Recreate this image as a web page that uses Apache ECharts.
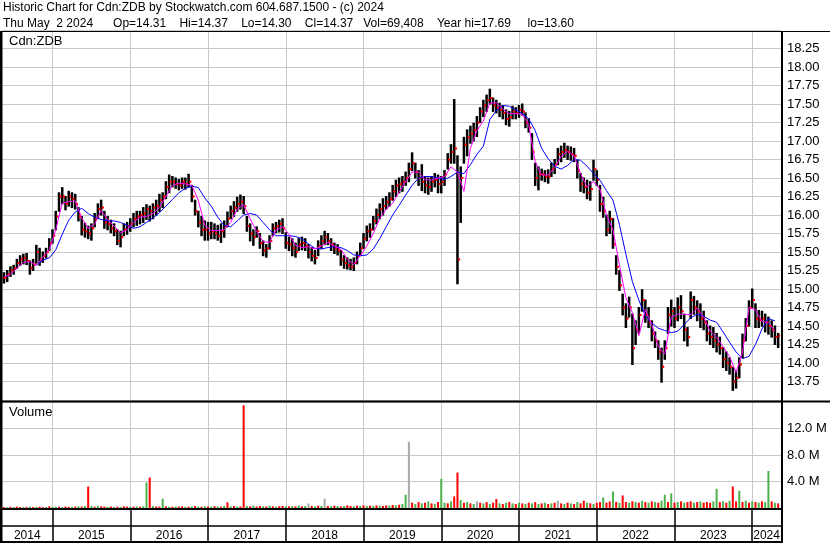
<!DOCTYPE html>
<html><head><meta charset="utf-8">
<script src="https://cdn.jsdelivr.net/npm/echarts@6/dist/echarts.min.js"></script>
<style>html,body{margin:0;padding:0;background:#fff}#c{width:830px;height:543px}</style>
</head><body><div id="c"></div>
<script>
// ---------- DATA ----------
const header1 = 'Historic Chart for Cdn:ZDB by Stockwatch.com 604.687.1500 - (c) 2024';
const header2 = 'Thu May  2 2024      Op=14.31    Hi=14.37    Lo=14.30    Cl=14.37   Vol=69,408    Year hi=17.69     lo=13.60';
const symbolName = 'Cdn:ZDB';
const volumeTitle = 'Volume';

// half-month samples starting mid-May 2014
const firstSample = 2014.375;
const samplesPerYear = 24;
const axisStart = 2014.35;
const axisEnd = 2024.37;
const yearBounds = [2015, 2016, 2017, 2018, 2019, 2020, 2021, 2022, 2023, 2024];

const high = [
15.22,15.25,15.30,15.32,15.40,15.45,15.47,15.48,15.38,15.40,
15.59,15.55,15.50,15.55,15.68,15.80,16.05,16.30,16.37,16.25,
16.32,16.30,16.28,16.10,15.98,15.89,15.85,15.88,16.02,16.15,
16.20,16.05,15.98,15.93,15.88,15.80,15.78,15.88,15.90,15.95,
16.02,16.05,16.05,16.10,16.14,16.12,16.15,16.20,16.28,16.30,
16.45,16.54,16.52,16.50,16.48,16.50,16.50,16.55,16.40,16.20,
16.05,15.98,15.92,15.90,15.90,15.88,15.86,15.88,15.92,16.04,
16.12,16.18,16.24,16.27,16.25,15.98,15.88,15.80,15.84,15.75,
15.65,15.60,15.72,15.88,15.90,15.93,15.95,15.76,15.70,15.68,
15.62,15.68,15.70,15.68,15.60,15.56,15.52,15.65,15.72,15.78,
15.75,15.68,15.62,15.60,15.52,15.45,15.42,15.40,15.42,15.50,
15.62,15.75,15.85,15.88,15.98,16.08,16.15,16.22,16.25,16.30,
16.40,16.47,16.50,16.52,16.58,16.70,16.84,16.70,16.60,16.68,
16.52,16.50,16.52,16.56,16.54,16.52,16.60,16.83,16.95,17.56,
16.80,16.65,17.05,17.15,17.20,17.24,17.33,17.45,17.55,17.62,
17.70,17.58,17.55,17.51,17.48,17.42,17.40,17.47,17.45,17.48,
17.50,17.38,17.30,17.10,16.70,16.65,16.62,16.60,16.61,16.70,
16.75,16.90,16.93,16.97,16.93,16.92,16.90,16.74,16.56,16.50,
16.47,16.45,16.74,16.60,16.40,16.24,16.00,16.05,15.95,15.45,
15.25,14.93,14.80,14.89,14.66,14.57,14.75,14.99,14.85,14.75,
14.57,14.42,14.30,14.20,14.30,14.75,14.85,14.75,14.88,14.91,
14.66,14.48,14.96,14.90,14.84,14.80,14.70,14.57,14.50,14.48,
14.40,14.35,14.21,14.15,14.07,13.94,13.90,14.07,14.39,14.60,
14.84,15.00,14.80,14.71,14.70,14.66,14.62,14.57,14.50,14.40];

const low = [
15.08,15.10,15.17,15.20,15.28,15.32,15.34,15.33,15.20,15.25,
15.35,15.32,15.36,15.42,15.52,15.62,15.80,16.05,16.15,16.07,
16.12,16.10,16.08,15.92,15.73,15.70,15.68,15.66,15.84,15.95,
16.00,15.82,15.80,15.76,15.72,15.60,15.57,15.72,15.74,15.78,
15.84,15.86,15.88,15.90,15.94,15.92,15.95,16.00,16.05,16.10,
16.22,16.30,16.38,16.36,16.34,16.36,16.35,16.38,16.18,16.00,
15.84,15.72,15.66,15.66,15.68,15.68,15.66,15.63,15.70,15.84,
15.95,15.98,16.05,16.08,16.02,15.78,15.65,15.59,15.70,15.55,
15.45,15.43,15.54,15.72,15.76,15.77,15.75,15.55,15.52,15.45,
15.43,15.52,15.53,15.52,15.42,15.38,15.34,15.45,15.55,15.60,
15.60,15.52,15.48,15.46,15.32,15.28,15.27,15.26,15.25,15.34,
15.45,15.55,15.65,15.70,15.80,15.88,15.95,16.00,16.08,16.12,
16.20,16.25,16.30,16.32,16.40,16.45,16.60,16.50,16.40,16.33,
16.30,16.28,16.32,16.38,16.30,16.30,16.40,16.62,16.70,16.70,
15.07,15.90,16.70,16.80,16.97,17.00,17.06,17.25,17.33,17.40,
17.50,17.40,17.38,17.33,17.30,17.22,17.20,17.30,17.30,17.32,
17.35,17.18,17.12,16.75,16.40,16.34,16.47,16.45,16.43,16.52,
16.56,16.68,16.72,16.78,16.75,16.74,16.72,16.50,16.32,16.30,
16.22,16.20,16.47,16.40,16.05,15.97,15.72,15.75,15.55,15.20,
14.98,14.65,14.48,14.62,13.98,14.25,14.40,14.70,14.55,14.48,
14.30,14.21,14.05,13.74,14.05,14.40,14.50,14.48,14.57,14.60,
14.30,14.23,14.60,14.66,14.57,14.48,14.45,14.30,14.25,14.21,
14.15,14.12,13.94,13.90,13.85,13.63,13.66,13.80,14.07,14.30,
14.50,14.75,14.48,14.48,14.50,14.42,14.39,14.35,14.25,14.21];

const close = [
15.15,15.20,15.25,15.28,15.35,15.40,15.42,15.38,15.28,15.33,
15.50,15.40,15.45,15.50,15.62,15.72,15.98,16.25,16.25,16.15,
16.25,16.22,16.15,15.98,15.80,15.78,15.75,15.82,15.95,16.08,
16.10,15.90,15.88,15.82,15.78,15.65,15.70,15.80,15.85,15.88,
15.95,15.98,16.00,16.02,16.08,16.05,16.10,16.12,16.20,16.25,
16.38,16.45,16.45,16.42,16.40,16.45,16.42,16.45,16.25,16.05,
15.90,15.80,15.80,15.75,15.78,15.75,15.72,15.78,15.85,15.95,
16.05,16.10,16.15,16.18,16.12,15.85,15.75,15.70,15.78,15.62,
15.52,15.55,15.65,15.82,15.85,15.88,15.82,15.62,15.60,15.55,
15.50,15.60,15.62,15.58,15.50,15.45,15.42,15.58,15.65,15.70,
15.65,15.60,15.55,15.52,15.40,15.35,15.32,15.30,15.35,15.45,
15.55,15.68,15.78,15.80,15.92,16.00,16.08,16.12,16.18,16.22,
16.32,16.40,16.42,16.45,16.50,16.62,16.70,16.58,16.50,16.45,
16.40,16.38,16.45,16.48,16.42,16.45,16.55,16.75,16.85,16.90,
15.40,16.50,16.95,17.05,17.10,17.15,17.25,17.40,17.48,17.55,
17.58,17.48,17.45,17.42,17.38,17.30,17.32,17.40,17.38,17.42,
17.40,17.25,17.18,16.85,16.50,16.55,16.55,16.52,16.52,16.62,
16.68,16.82,16.85,16.88,16.85,16.82,16.80,16.60,16.42,16.38,
16.30,16.35,16.62,16.48,16.15,16.05,15.80,15.95,15.60,15.30,
15.05,14.75,14.60,14.75,14.20,14.45,14.65,14.85,14.65,14.55,
14.40,14.30,14.15,13.95,14.20,14.65,14.70,14.60,14.75,14.70,
14.45,14.35,14.85,14.75,14.70,14.60,14.55,14.40,14.35,14.30,
14.25,14.20,14.05,14.00,13.95,13.75,13.80,13.98,14.30,14.50,
14.75,14.85,14.60,14.58,14.60,14.55,14.50,14.45,14.35,14.37];

// moving averages, one value per month (same start)
const samplesPerYearMA = 12;
const maFast = [
15.16,15.20,15.28,15.36,15.37,15.32,15.43,15.53,15.80,16.16,
16.18,16.19,15.96,15.82,15.88,16.06,15.94,15.85,15.76,15.80,
15.90,15.97,15.98,16.02,16.10,16.25,16.40,16.43,16.42,16.40,
16.20,15.86,15.79,15.79,15.80,15.90,16.08,16.14,15.95,15.78,
15.64,15.63,15.80,15.84,15.74,15.59,15.56,15.57,15.54,15.58,
15.63,15.58,15.54,15.40,15.33,15.45,15.58,15.75,15.95,16.08,
16.16,16.31,16.45,16.58,16.58,16.48,16.47,16.50,16.52,16.65,
16.58,16.32,16.90,17.14,17.27,17.51,17.52,17.43,17.37,17.37,
17.36,17.22,16.72,16.54,16.54,16.64,16.79,16.86,16.80,16.56,
16.38,16.45,16.35,16.00,15.80,15.33,14.88,14.68,14.37,14.72,
14.52,14.22,14.12,14.62,14.66,14.66,14.65,14.74,14.62,14.43,
14.35,14.22,14.09,13.87,14.15,14.75,14.72,14.56,14.55,14.43];

const maSlow = [
null,null,null,null,null,15.32,15.39,15.42,15.53,15.74,
15.93,16.04,16.09,16.02,15.97,15.94,15.92,15.92,15.90,15.86,
15.82,15.84,15.90,15.96,16.03,16.12,16.21,16.30,16.36,16.39,
16.37,16.23,16.12,15.97,15.86,15.84,15.92,16.00,16.02,16.00,
15.90,15.80,15.72,15.72,15.72,15.71,15.68,15.61,15.55,15.54,
15.56,15.57,15.56,15.52,15.46,15.45,15.46,15.54,15.68,15.84,
16.00,16.13,16.27,16.40,16.50,16.52,16.52,16.50,16.48,16.52,
16.58,16.56,16.68,16.82,16.93,17.29,17.41,17.48,17.47,17.42,
17.37,17.30,17.14,16.90,16.76,16.66,16.62,16.67,16.75,16.74,
16.66,16.56,16.47,16.33,16.20,15.87,15.47,15.10,14.85,14.64,
14.54,14.47,14.44,14.41,14.43,14.52,14.61,14.66,14.63,14.58,
14.55,14.42,14.28,14.15,14.06,14.09,14.25,14.46,14.60,14.57];

// volume in millions, half-month samples
const volume = [
0.15,0.12,0.18,0.14,0.2,0.15,0.12,0.16,0.22,0.15,0.18,0.2,0.14,0.16,0.25,0.18,
0.18,0.2,0.15,0.22,0.18,0.16,0.2,0.25,0.2,0.3,3.25,0.3,0.18,0.35,0.25,0.2,0.18,0.22,0.15,0.2,0.18,0.25,0.2,0.18,
0.2,0.22,0.18,0.25,3.85,4.6,0.3,0.22,0.2,1.4,0.25,0.2,0.18,0.22,0.2,0.25,0.18,0.2,0.22,0.3,0.2,0.18,0.25,0.2,
0.2,0.25,0.22,0.2,0.3,0.85,0.25,0.3,0.2,0.22,15.5,0.3,0.25,0.35,0.2,0.3,0.25,0.22,0.35,0.25,0.2,0.28,0.3,0.25,
0.25,0.3,0.22,0.35,0.25,0.3,0.7,0.3,0.25,0.35,0.3,1.4,0.3,0.25,0.35,0.3,0.25,0.3,0.4,0.3,0.25,0.35,0.3,0.4,
0.3,0.35,0.3,0.4,0.35,0.3,0.4,0.35,0.45,0.4,0.5,0.6,2.0,10.0,0.8,0.6,0.9,0.7,0.8,1.0,0.7,0.6,0.9,4.4,
0.8,0.7,1.0,1.75,5.35,1.2,0.8,0.9,0.7,0.6,1.0,0.8,0.7,0.9,0.6,0.8,1.35,0.7,0.6,0.8,0.9,0.7,0.6,0.8,
0.7,0.6,0.8,0.7,0.9,0.6,0.7,0.8,0.6,0.7,0.8,1.1,0.7,0.6,0.8,0.7,0.6,0.9,0.7,1.1,0.8,0.7,0.6,0.8,
0.9,1.6,0.8,1.0,2.5,0.9,0.8,1.9,0.9,0.8,1.0,0.9,0.8,1.1,0.9,0.8,1.0,0.9,0.8,1.1,2.0,0.9,2.2,0.8,
0.9,1.0,0.8,0.9,1.0,0.8,0.9,1.0,0.8,0.9,0.8,1.0,2.9,0.9,1.0,0.8,1.1,3.25,1.0,2.6,0.9,1.1,0.8,1.0,
0.9,0.8,1.0,0.9,5.6,1.0,0.8,0.7];
// g = up, r = down, n = unchanged
const volumeDir = (
'rgrgrrgrgrgrrgrg' +
'grgrrgrgrgrgrgrrgrgrgrrg' +
'rgrggrgrrgrgrgrrgrgrgrgr' +
'grgrgrgrgrrgrgrrgrgrgrrg' +
'rgrgrgnrgrgnrgrgrgrrgrgr' +
'grgrgrrgrgrggnrgrgrgrgrg' +
'grgrrgrgrgnrgrgrrgrgrgrg' +
'rgrgrgrgrgrnrgrgrgrrgrgr' +
'rgrrgrgrrgrgrgrgrgrggrgr' +
'grgrrgrgrrrggrgrgrrgrgrg' +
'rgrggrgr');

// ---------- CHART ----------
const FONT = '"Liberation Sans", Arial, sans-serif';
const GRIDC = '#c8c8c8';
const sampleTime = (i, per) => firstSample + i / per;

// year label positions: middle of each (possibly partial) year segment
const labelYears = [Math.floor(axisStart)].concat(yearBounds);
const yearMids = labelYears.map(y => (Math.max(y, axisStart) + Math.min(y + 1, axisEnd)) / 2);

const barData = high.map((h, i) => [sampleTime(i, samplesPerYear), h, low[i], close[i], i > 0 ? close[i - 1] : close[i]]);
const fastData = maFast.map((v, k) => [sampleTime(k, samplesPerYearMA), v]);
const slowData = maSlow.map((v, k) => [sampleTime(k, samplesPerYearMA), v]);
const dirColor = {g: '#4cb04c', r: '#ff0000', n: '#a8a8a8'};
const volData = volume.map((v, i) => ({value: [sampleTime(i, samplesPerYear), v], itemStyle: {color: dirColor[volumeDir[i]]}}));

function renderOHLC(params, api) {
  const t = api.value(0);
  const pH = api.coord([t, api.value(1)]);
  const pL = api.coord([t, api.value(2)]);
  const pC = api.coord([t, api.value(3)]);
  const pO = api.coord([t, api.value(4)]);
  return {type: 'group', children: [
    {type: 'line', shape: {x1: pH[0], y1: pH[1] - 0.5, x2: pL[0], y2: pL[1] + 0.5}, style: {stroke: '#000', lineWidth: 2.5}},
    {type: 'line', shape: {x1: pO[0] - 2, y1: pO[1], x2: pO[0] - 0.5, y2: pO[1]}, style: {stroke: '#ff0000', lineWidth: 2}},
    {type: 'line', shape: {x1: pC[0] + 0.5, y1: pC[1], x2: pC[0] + 2, y2: pC[1]}, style: {stroke: '#ff0000', lineWidth: 2}}
  ]};
}

const xBase = {type: 'value', min: axisStart, max: axisEnd};
const hiddenX = Object.assign({}, xBase, {
  axisLine: {show: false}, axisLabel: {show: false},
  axisTick: {show: false, customValues: yearBounds},
  splitLine: {show: true, lineStyle: {color: GRIDC, width: 1}}
});

const chart = echarts.init(document.getElementById('c'), null, {renderer: 'canvas'});
chart.setOption({
  animation: false,
  backgroundColor: '#fff',
  textStyle: {fontFamily: FONT},
  title: [
    {text: header1, left: 3, top: 2, padding: 0, textStyle: {fontSize: 12, fontWeight: 'normal', color: '#000', fontFamily: FONT}},
    {text: header2, left: 3, top: 18, padding: 0, textStyle: {fontSize: 12, fontWeight: 'normal', color: '#000', fontFamily: FONT}},
    {text: symbolName, left: 9, top: 35, padding: 0, textStyle: {fontSize: 13, fontWeight: 'normal', color: '#000', fontFamily: FONT}},
    {text: volumeTitle, left: 9, top: 406, padding: 0, textStyle: {fontSize: 13, fontWeight: 'normal', color: '#000', fontFamily: FONT}}
  ],
  grid: [
    {left: 2, right: 49, top: 30, height: 370},
    {left: 2, right: 49, top: 402, height: 106},
    {left: 2, right: 49, top: 509, height: 17}
  ],
  xAxis: [
    Object.assign({gridIndex: 0}, hiddenX),
    Object.assign({gridIndex: 1}, hiddenX),
    Object.assign({}, xBase, {
      gridIndex: 2, position: 'bottom',
      axisLine: {show: true, lineStyle: {color: '#000', width: 1.5}},
      axisTick: {show: true, customValues: yearBounds, length: 16, lineStyle: {color: '#000', width: 1.5}},
      splitLine: {show: true, lineStyle: {color: '#000', width: 1.5}},
      axisLabel: {customValues: yearMids, formatter: v => String(Math.floor(v)), color: '#000', fontSize: 12, margin: 4, fontFamily: FONT}
    })
  ],
  yAxis: [
    {gridIndex: 0, type: 'value', position: 'right', min: 13.5, max: 18.5, interval: 0.25,
      axisLine: {show: false}, axisTick: {show: false},
      splitLine: {show: true, lineStyle: {color: GRIDC, width: 1}},
      axisLabel: {showMinLabel: false, showMaxLabel: false, margin: 6, color: '#000', fontSize: 13, fontFamily: FONT, formatter: v => v.toFixed(2)}},
    {gridIndex: 1, type: 'value', position: 'right', min: 0, max: 16, interval: 4,
      axisLine: {show: false}, axisTick: {show: false},
      splitLine: {show: true, lineStyle: {color: GRIDC, width: 1}},
      axisLabel: {showMinLabel: false, showMaxLabel: false, margin: 6, color: '#000', fontSize: 13, fontFamily: FONT, formatter: v => v.toFixed(1) + ' M'}},
    {gridIndex: 2, type: 'value', min: 0, max: 1, show: false}
  ],
  series: [
    {type: 'custom', xAxisIndex: 0, yAxisIndex: 0, renderItem: renderOHLC, data: barData, encode: {x: 0, y: [1, 2, 3]}, clip: true, z: 2},
    {type: 'line', xAxisIndex: 0, yAxisIndex: 0, data: slowData, showSymbol: false, lineStyle: {color: '#0000ff', width: 1}, itemStyle: {color: '#0000ff'}, z: 3},
    {type: 'line', xAxisIndex: 0, yAxisIndex: 0, data: fastData, showSymbol: false, lineStyle: {color: '#ff00ff', width: 1}, itemStyle: {color: '#ff00ff'}, z: 4},
    {type: 'bar', xAxisIndex: 1, yAxisIndex: 1, data: volData, barWidth: 2}
  ],
  graphic: [
    {type: 'rect', z: 100, shape: {x: 0, y: 31, width: 2.5, height: 512}, style: {fill: '#000'}},
    {type: 'rect', z: 100, shape: {x: 781, y: 31, width: 2, height: 512}, style: {fill: '#000'}},
    {type: 'line', z: 100, shape: {x1: 0, y1: 31.5, x2: 830, y2: 31.5}, style: {stroke: '#000', lineWidth: 1}},
    {type: 'line', z: 100, shape: {x1: 0, y1: 401.5, x2: 830, y2: 401.5}, style: {stroke: '#000', lineWidth: 2}},
    {type: 'line', z: 100, shape: {x1: 0, y1: 509, x2: 783, y2: 509}, style: {stroke: '#000', lineWidth: 2}},
    {type: 'line', z: 100, shape: {x1: 0, y1: 542, x2: 783, y2: 542}, style: {stroke: '#000', lineWidth: 2}}
  ]
});
</script></body></html>
